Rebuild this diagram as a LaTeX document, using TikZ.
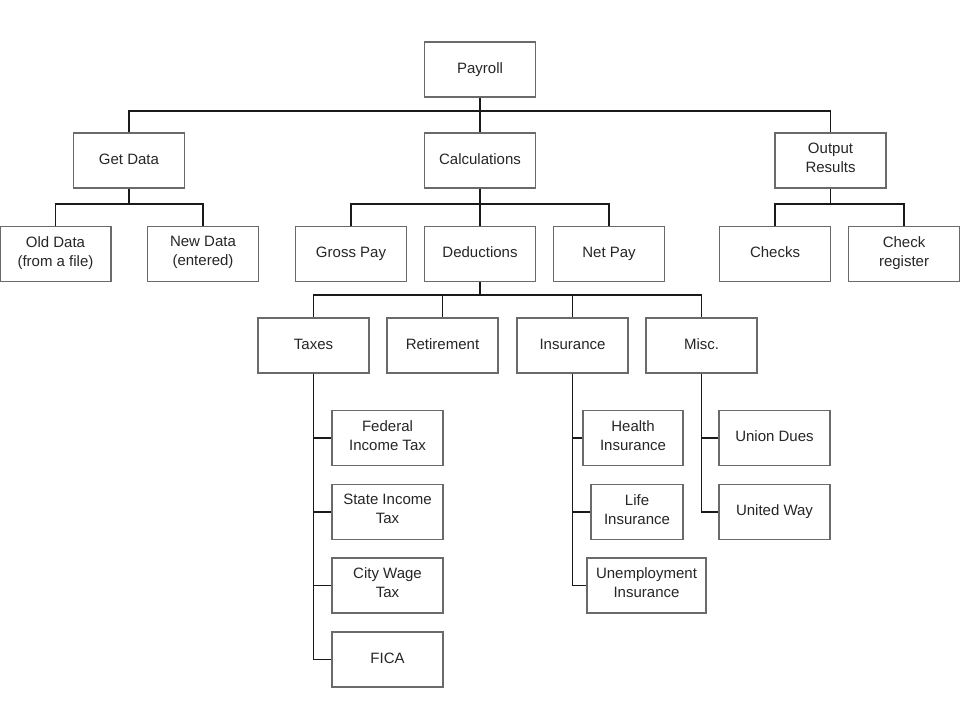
\documentclass[tikz,border=0pt]{standalone}
\usepackage{fontspec}
\setmainfont{Liberation Sans}
\definecolor{boxgray}{HTML}{6A6A6A}
\definecolor{txtgray}{HTML}{262626}
\definecolor{wiregray}{HTML}{1A1A1A}

\begin{document}
\begin{tikzpicture}[
        x=1pt, y=-1pt,
        box/.style={draw=boxgray, line width=1.2pt, fill=white, text=txtgray,
          minimum width=111pt, minimum height=55pt, inner sep=1pt,
          align=center, font=\fontsize{15}{19}\selectfont,
          execute at begin node=\strut, execute at end node=\strut},
        wire/.style={draw=wiregray, line width=1.9pt}
        ]
        % 画布
        \useasboundingbox (0,0) rectangle (960,720);
        % 第一层
        \node[box] (payroll) at (480,69.5) {Payroll};
        % 第二层
        \node[box] (getdata) at (129,160.5) {Get Data};
        \node[box] (calc) at (480,160.5) {Calculations};
        \node[box] (output) at (830.5,160.5) {Output\\Results};
        % 第三层
        \node[box] (olddata) at (55.5,254) {Old Data\\(from a file)};
        \node[box] (newdata) at (203,254) {New Data\\(entered)};
        \node[box] (gross) at (351,254) {Gross Pay};
        \node[box] (deduct) at (480,254) {Deductions};
        \node[box] (netpay) at (609,254) {Net Pay};
        \node[box] (checks) at (775,254) {Checks};
        \node[box] (register) at (904,254) {Check\\register};
        % 第四层
        \node[box] (taxes) at (313.5,345.5) {Taxes};
        \node[box] (retire) at (442.5,345.5) {Retirement};
        \node[box] (insur) at (572.5,345.5) {Insurance};
        \node[box] (misc) at (701.5,345.5) {Misc.};
        % 税
        \node[box] (federal) at (387.5,438) {Federal\\Income Tax};
        \node[box] (state) at (387.5,512) {State Income\\Tax};
        \node[box] (city) at (387.5,585.5) {City Wage\\Tax};
        \node[box] (fica) at (387.5,659.5) {FICA};
        % 保险
        \node[box, minimum width=100pt] (health) at (633,438) {Health\\Insurance};
        \node[box, minimum width=92pt] (life) at (637,512) {Life\\Insurance};
        \node[box, minimum width=119pt] (unemp) at (646.5,585.5) {Unemployment\\Insurance};
        % 其他
        \node[box] (union) at (774.5,438) {Union Dues};
        \node[box] (united) at (774.5,512) {United Way};
        % 连线
        \draw[wire] (payroll.south) -- (calc.north);
        \draw[wire] (payroll.south) -- ++(0,13) -| (getdata.north);
        \draw[wire] (payroll.south) -- ++(0,13) -| (output.north);
        \draw[wire] (getdata.south) -- ++(0,15) -| (olddata.north);
        \draw[wire] (getdata.south) -- ++(0,15) -| (newdata.north);
        \draw[wire] (calc.south) -- (deduct.north);
        \draw[wire] (calc.south) -- ++(0,15) -| (gross.north);
        \draw[wire] (calc.south) -- ++(0,15) -| (netpay.north);
        \draw[wire] (output.south) -- ++(0,15) -| (checks.north);
        \draw[wire] (output.south) -- ++(0,15) -| (register.north);
        \draw[wire] (deduct.south) -- ++(0,13) -| (taxes.north);
        \draw[wire] (deduct.south) -- ++(0,13) -| (retire.north);
        \draw[wire] (deduct.south) -- ++(0,13) -| (insur.north);
        \draw[wire] (deduct.south) -- ++(0,13) -| (misc.north);
        \draw[wire] (taxes.south) |- (federal.west);
        \draw[wire] (taxes.south) |- (state.west);
        \draw[wire] (taxes.south) |- (city.west);
        \draw[wire] (taxes.south) |- (fica.west);
        \draw[wire] (insur.south) |- (health.west);
        \draw[wire] (insur.south) |- (life.west);
        \draw[wire] (insur.south) |- (unemp.west);
        \draw[wire] (misc.south) |- (union.west);
        \draw[wire] (misc.south) |- (united.west);
      \end{tikzpicture}
\end{document}
